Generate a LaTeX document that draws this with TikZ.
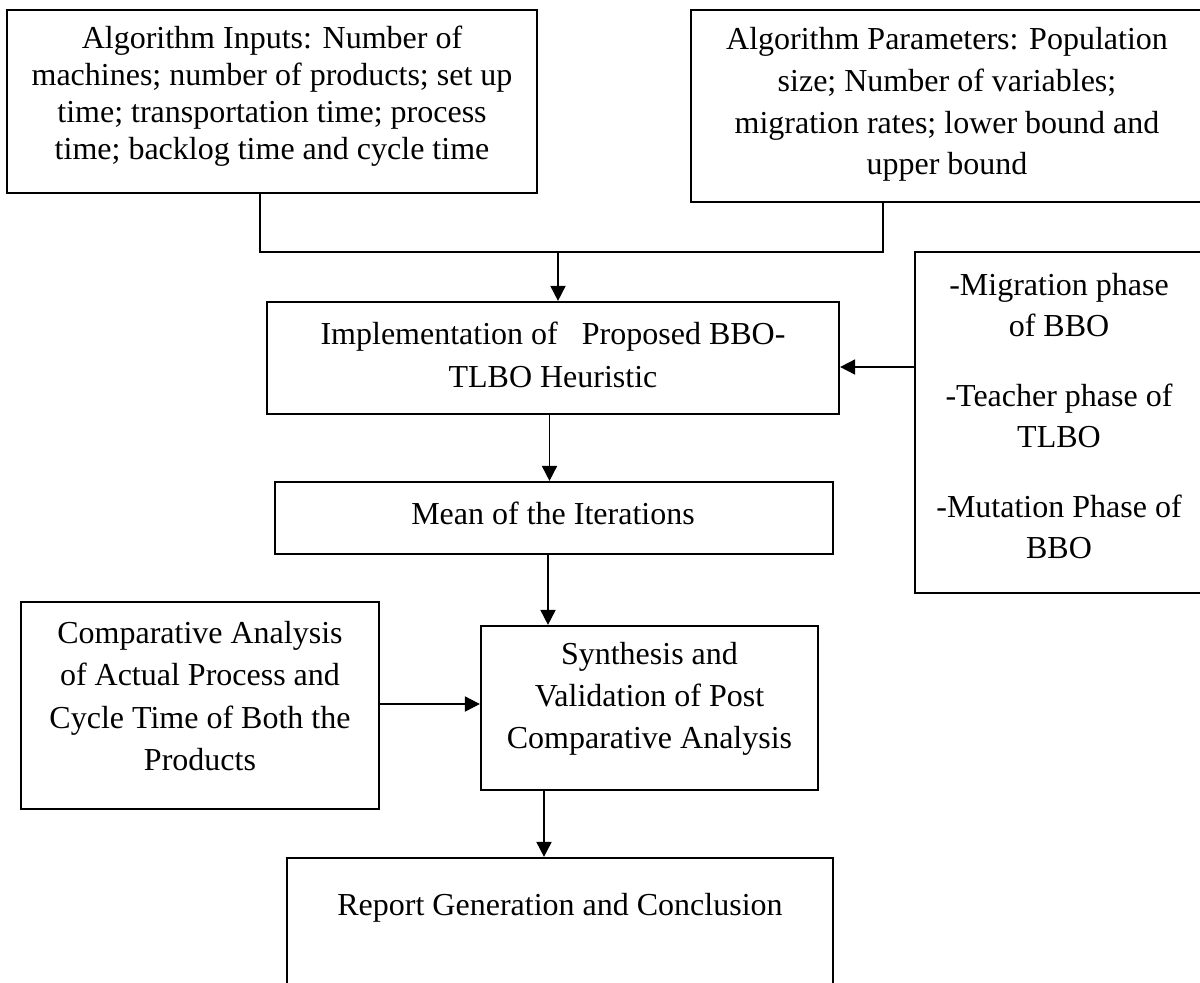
\documentclass[tikz,border=0pt]{standalone}
\usepackage{fontspec}
\setmainfont{Liberation Serif}
\usetikzlibrary{arrows.meta}
\begin{document}
\begin{tikzpicture}[x=0.5pt,y=-0.5pt,
  box/.style={draw=black, line width=1.1pt, rectangle, inner sep=0pt},
  txt/.style={align=center, inner sep=0pt, font=\fontsize{16pt}{21pt}\selectfont},
  conn/.style={line width=0.9pt},
  arr/.style={conn, -{Triangle[length=7.5pt,width=7.5pt]}}]
\useasboundingbox (0,0) rectangle (1200,982);
\begin{scope}
\clip (0,0) rectangle (1200,982);
% boxes
\node[box, minimum width=265pt, minimum height=91.5pt] (inputs) at (272,101.5) {};
\node[txt, font=\fontsize{16pt}{18.6pt}\selectfont] (inputsT) at (272,96) {Algorithm Inputs: Number of\\ machines; number of products; set up\\ time; transportation time; process\\ time; backlog time and cycle time};

\node[box, minimum width=257pt, minimum height=96pt] (params) at (948,106) {};
\node[txt, font=\fontsize{16pt}{20.85pt}\selectfont] (paramsT) at (947,104.5) {Algorithm Parameters: Population\\ size; Number of variables;\\ migration rates; lower bound and\\ upper bound};

\node[box, minimum width=145pt, minimum height=170.5pt] (phases) at (1060,422.5) {};
\node[txt, font=\fontsize{16pt}{20.5pt}\selectfont] (phasesT) at (1059,416) {-Migration phase\\ of BBO\\[14.5pt] -Teacher phase of\\ TLBO\\[14.5pt] -Mutation Phase of\\ BBO};

\node[box, minimum width=286pt, minimum height=56pt] (impl) at (553,358) {};
\node[txt, font=\fontsize{16pt}{21.5pt}\selectfont] (implT) at (553,354.5) {Implementation of~~ Proposed BBO-\\ TLBO Heuristic};

\node[box, minimum width=279pt, minimum height=36pt] (mean) at (554,518) {};
\node[txt] (meanT) at (553,513) {Mean of the Iterations};

\node[box, minimum width=168.5pt, minimum height=82pt] (synth) at (649.5,708) {};
\node[txt] (synthT) at (649.5,699) {Synthesis and\\ Validation of Post\\ Comparative Analysis};

\node[box, minimum width=179pt, minimum height=103.5pt] (comp) at (200,705.5) {};
\node[txt, font=\fontsize{16pt}{21.15pt}\selectfont] (compT) at (200,696) {Comparative Analysis\\ of Actual Process and\\ Cycle Time of Both the\\ Products};

\node[box, minimum width=273pt, minimum height=71pt] (report) at (560,929) {};
\node[txt] (reportT) at (560,908) {Report Generation and Conclusion};

% connectors
\coordinate (aL) at (260,252);
\coordinate (bL) at (883,252);
\coordinate (j) at (558,252);
\draw[conn] (inputs.south -| aL) -- (aL) -- (bL) -- (params.south -| bL);
\draw[arr] (j) -- (impl.north -| j);
\coordinate (pj) at (915,367);
\draw[arr] (phases.west |- pj) -- (impl.east |- pj);
\coordinate (im) at (549.5,450);
\draw[arr] (impl.south -| im) -- (mean.north -| im);
\coordinate (ms) at (548,590);
\draw[arr] (mean.south -| ms) -- (synth.north -| ms);
\coordinate (cs) at (430,704);
\draw[arr] (comp.east |- cs) -- (synth.west |- cs);
\coordinate (sr) at (544,820);
\draw[arr] (synth.south -| sr) -- (report.north -| sr);
\end{scope}
\end{tikzpicture}
\end{document}
